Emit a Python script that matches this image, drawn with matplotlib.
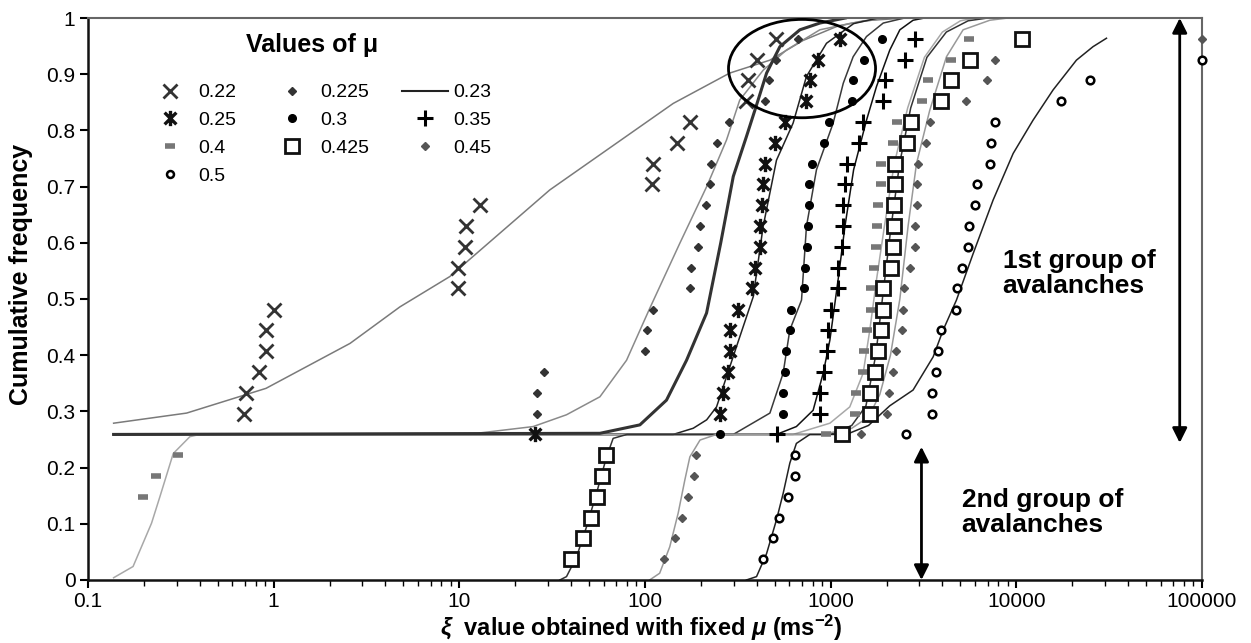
import matplotlib
matplotlib.use("Agg")
import matplotlib.pyplot as plt
import numpy as np
from matplotlib.lines import Line2D
from matplotlib.patches import Ellipse
from matplotlib.path import Path

plt.rcParams['font.family'] = ['Liberation Sans', 'DejaVu Sans']
plt.rcParams['mathtext.fontset'] = 'custom'
plt.rcParams['mathtext.rm'] = 'Liberation Sans:bold'
plt.rcParams['mathtext.it'] = 'Liberation Sans:italic:bold'
plt.rcParams['mathtext.bf'] = 'Liberation Sans:bold'

# cumulative frequency levels
freq_lo = [0.037, 0.074, 0.111, 0.148, 0.185, 0.222]
freq_hi = [0.259, 0.296, 0.333, 0.370, 0.407, 0.444, 0.481, 0.519, 0.556, 0.593,
           0.630, 0.667, 0.704, 0.741, 0.778, 0.815, 0.852, 0.889, 0.926, 0.963]

# xi values per mu (points)
x_022 = [0.695, 0.714, 0.837, 0.906, 0.906, 1.004, 9.87, 9.87, 10.7, 10.9, 12.9,
         108.5, 110.7, 148, 174.6, 352, 360, 399, 511]
y_022 = freq_hi[1:]
x_0225 = [26.1, 26.1, 28.5, 99.8, 102, 111, 174.5, 178, 193.5, 197.6, 214.5, 223.5,
          228, 245, 284, 442, 467, 511, 668]
y_0225 = freq_hi[1:]
x_025 = [25.5, 253, 264, 281, 287, 287, 318, 375, 391, 416, 416, 425, 433, 443,
         501, 567, 741, 773, 857, 1120]
y_025 = freq_hi
x_03 = [253, 551, 551, 567, 578, 603, 615, 716, 726, 748, 757, 765, 765, 798,
        919, 981, 1296, 1322, 1514, 1900]
y_03 = freq_hi
x_035 = [515, 875, 875, 919, 958, 970, 1003, 1090, 1090, 1146, 1160, 1168, 1194,
         1219, 1425, 1498, 1918, 1960, 2512, 2840]
y_035 = freq_hi
x_04 = [0.199, 0.2315, 0.306,
        942, 1349, 1368, 1486, 1510, 1561, 1660, 1660, 1710, 1750, 1778, 1800,
        1875, 1875, 2173, 2265, 3090, 3350, 4475, 5570]
y_04 = freq_lo[3:] + freq_hi
x_0425 = [40.2, 46.1, 51.5, 55.3, 58.4, 61.4,
          1145, 1626, 1626, 1730, 1803, 1879, 1918, 1918, 2103, 2173, 2190, 2190,
          2218, 2218, 2588, 2698, 3908, 4475, 5620, 10800]
y_0425 = freq_lo + freq_hi
x_045 = [126.5, 145, 157.5, 169.5, 183.4, 188,
         1466, 2000, 2065, 2173, 2245, 2409, 2440, 2479, 2672, 2840, 2840, 2924,
         2924, 2958, 3256, 3420, 5345, 6915, 7670, 100000]
y_045 = freq_lo + freq_hi
x_05 = [433, 490, 528, 586, 642, 642,
        2541, 3494, 3494, 3715, 3793, 3924, 4722, 4800, 5130, 5505, 5570, 5980,
        6110, 7200, 7350, 7660, 17380, 24900, 100000]
y_05 = freq_lo + freq_hi[:-1]

# fitted curves
fx_022 = [0.1375, 0.34, 0.91, 2.58, 4.79, 8.9, 30.7, 142, 286, 471, 710, 1080, 1500, 2500]
fy_022 = [0.279, 0.297, 0.341, 0.421, 0.486, 0.540, 0.694, 0.848, 0.902, 0.925, 0.96, 0.985, 0.995, 1.0]
fx_0225 = [0.1375, 12.4, 25, 37.8, 57.2, 79.6, 106, 154, 215, 275, 324, 433, 578, 875, 1300, 2000]
fy_0225 = [0.259, 0.261, 0.273, 0.294, 0.326, 0.391, 0.483, 0.599, 0.700, 0.783, 0.854, 0.907, 0.943, 0.979, 0.991, 1.0]
fx_023 = [0.1375, 57.2, 93.9, 130.6, 167.5, 214.7, 256, 299, 352, 391, 452, 533, 683, 875, 1200]
fy_023 = [0.259, 0.261, 0.276, 0.320, 0.391, 0.475, 0.60, 0.718, 0.789, 0.836, 0.902, 0.949, 0.979, 0.991, 1.0]
fx_025 = [0.1375, 142, 182, 215, 243, 311, 383, 433, 511, 628, 741, 950, 1330, 1800]
fy_025 = [0.259, 0.259, 0.27, 0.285, 0.308, 0.415, 0.504, 0.629, 0.747, 0.813, 0.896, 0.955, 0.99, 1.0]
fx_03 = [0.1375, 299, 471, 555, 603, 697, 741, 839, 1032, 1170, 1322, 1560, 1920, 2500]
fy_03 = [0.259, 0.259, 0.297, 0.368, 0.445, 0.498, 0.629, 0.730, 0.813, 0.884, 0.931, 0.967, 0.991, 1.0]
fx_035 = [0.1375, 511, 654, 805, 912, 991, 1097, 1194, 1330, 1560, 1766, 2083, 2360, 2780, 3200]
fy_035 = [0.259, 0.259, 0.273, 0.302, 0.368, 0.427, 0.534, 0.629, 0.73, 0.818, 0.878, 0.943, 0.979, 0.996, 1.0]
fx_04 = [0.1375, 0.175, 0.22, 0.244, 0.288, 0.354, 0.40, 628, 991, 1268, 1497, 1626, 1766,
         1950, 2200, 2600, 3200, 4000, 5000, 6000]
fy_04 = [0.004, 0.024, 0.101, 0.148, 0.225, 0.255, 0.259, 0.259, 0.279, 0.308, 0.368, 0.445,
         0.534, 0.63, 0.74, 0.84, 0.93, 0.975, 0.995, 1.0]
fx_0425 = [34.8, 37.8, 42.8, 48.5, 54.8, 62.1, 67.4, 80, 1000, 1300, 1550, 1750, 1900, 2100,
           2350, 2700, 3300, 4200, 5500, 7000]
fy_0425 = [0, 0.006, 0.041, 0.095, 0.154, 0.219, 0.252, 0.259, 0.259, 0.275, 0.31, 0.40,
           0.50, 0.62, 0.74, 0.84, 0.93, 0.975, 0.995, 1.0]
fx_045 = [106, 120, 136, 151, 164, 174.5, 198, 243, 900, 1300, 1600, 1840, 2100, 2360, 2614,
          2901, 3420, 4206, 5170, 7200, 9000]
fy_045 = [0, 0.012, 0.059, 0.119, 0.178, 0.219, 0.249, 0.259, 0.259, 0.27, 0.29, 0.33, 0.40,
          0.50, 0.63, 0.741, 0.836, 0.931, 0.979, 0.996, 1.0]
fx_05 = [352, 399, 452, 511, 555, 603, 654, 773, 1216, 1600, 2083, 2780, 3566, 4040, 4760,
         5860, 7500, 9620, 12300, 15780, 21080, 25900, 30600]
fy_05 = [0, 0.006, 0.047, 0.107, 0.154, 0.208, 0.243, 0.259, 0.259, 0.275, 0.31, 0.338,
         0.397, 0.445, 0.498, 0.581, 0.676, 0.759, 0.818, 0.872, 0.925, 0.949, 0.964]

# asterisk marker: X with a vertical bar
ast = Path([(-1, -1), (1, 1), (-1, 1), (1, -1), (0, -1.3), (0, 1.3)],
           [Path.MOVETO, Path.LINETO, Path.MOVETO, Path.LINETO, Path.MOVETO, Path.LINETO])

fig = plt.figure(figsize=(12.51, 6.43), dpi=100)
ax = fig.add_axes([0.0703, 0.098, 0.8905, 0.874])

# fitted lines
ax.plot(fx_022, fy_022, color='#7a7a7a', lw=1.1)
ax.plot(fx_0225, fy_0225, color='#8a8a8a', lw=1.1)
ax.plot(fx_025, fy_025, color='#222222', lw=1.1)
ax.plot(fx_03, fy_03, color='#3a3a3a', lw=1.1)
ax.plot(fx_035, fy_035, color='#111111', lw=1.1)
ax.plot(fx_04, fy_04, color='#a8a8a8', lw=1.1)
ax.plot(fx_0425, fy_0425, color='#333333', lw=1.1)
ax.plot(fx_045, fy_045, color='#999999', lw=1.1)
ax.plot(fx_05, fy_05, color='#222222', lw=1.1)
ax.plot(fx_023, fy_023, color='#333333', lw=2.2)

# points
st = dict(ls='none', clip_on=False, zorder=5)
ax.plot(x_022, y_022, marker='x', ms=10, mew=2, color='#333333', **st)
ax.plot(x_0225, y_0225, marker='D', ms=4, color='#333333', **st)
ax.plot(x_025, y_025, marker=ast, ms=11, mew=2.4, color='#111111', **st)
ax.plot(x_03, y_03, marker='o', ms=5.5, color='black', **st)
ax.plot(x_035, y_035, marker='+', ms=12, mew=2.2, color='black', **st)
ax.plot(x_04, y_04, marker='_', ms=7, mew=4, color='#777777', **st)
ax.plot(x_0425, y_0425, marker='s', ms=10, mew=2, mfc='white', color='#111111', **st)
ax.plot(x_045, y_045, marker='D', ms=4, color='#555555', **st)
ax.plot(x_05, y_05, marker='o', ms=5.5, mew=1.8, mfc='white', color='black', **st)

ax.set_xscale('log')
ax.set_xlim(0.1, 100000)
ax.set_ylim(0, 1)
ax.set_xticks([0.1, 1, 10, 100, 1000, 10000, 100000])
ax.set_xticklabels(['0.1', '1', '10', '100', '1000', '10000', '100000'])
ax.set_yticks(np.arange(0, 1.01, 0.1))
ax.set_yticklabels(['0', '0.1', '0.2', '0.3', '0.4', '0.5', '0.6', '0.7', '0.8', '0.9', '1'])
ax.tick_params(axis='both', which='major', direction='out', length=6, width=1.5, labelsize=15, pad=3)
ax.tick_params(axis='x', which='minor', direction='out', length=4, width=1)
for s in ['left', 'bottom']:
    ax.spines[s].set_linewidth(1.8)
    ax.spines[s].set_color('#111111')
for s in ['top', 'right']:
    ax.spines[s].set_linewidth(1.5)
    ax.spines[s].set_color('#666666')

ax.set_ylabel('Cumulative frequency', fontsize=18, fontweight='bold')
ax.yaxis.set_label_coords(-0.049, 0.543)
ax.set_xlabel(r'$\xi$  value obtained with fixed $\mu$ (ms$^{-2}$)', fontsize=17,
              fontweight='bold')
ax.xaxis.set_label_coords(0.497, -0.058)

# legend
h = [Line2D([], [], ls='none', marker='x', ms=10, mew=2, color='#333333'),
     Line2D([], [], ls='none', marker=ast, ms=11, mew=2.4, color='#111111'),
     Line2D([], [], ls='none', marker='_', ms=7, mew=4, color='#777777'),
     Line2D([], [], ls='none', marker='o', ms=5, mew=1.8, mfc='white', color='black'),
     Line2D([], [], ls='none', marker='D', ms=4, color='#333333'),
     Line2D([], [], ls='none', marker='o', ms=5.5, color='black'),
     Line2D([], [], ls='none', marker='s', ms=10, mew=2, mfc='white', color='#111111'),
     Line2D([], [], color='#222222', lw=1.5),
     Line2D([], [], ls='none', marker='+', ms=12, mew=2.2, color='black'),
     Line2D([], [], ls='none', marker='D', ms=4, color='#555555')]
lab = ['0.22', '0.25', '0.4', '0.5', '0.225', '0.3', '0.425', '0.23', '0.35', '0.45']
ax.legend(h, lab, ncol=3, loc='upper left', bbox_to_anchor=(0.053, 0.883),
          frameon=False, fontsize=14, borderpad=0, borderaxespad=0,
          handlelength=2.37, handletextpad=0.26, columnspacing=1.7, labelspacing=0.52)
ax.text(0.201, 0.952, 'Values of μ', transform=ax.transAxes, fontsize=18,
        fontweight='bold', ha='center', va='center')

# ellipse highlighting the top of the curves
ax.add_patch(Ellipse((0.641, 0.91), 0.132, 0.175, transform=ax.transAxes,
                     fill=False, lw=2, color='black', clip_on=False, zorder=6))

# group arrows
ax.annotate('', xy=(75900, 1.0), xytext=(75900, 0.244),
            arrowprops=dict(arrowstyle='<|-|>', color='black', lw=2, mutation_scale=22,
                            shrinkA=0, shrinkB=0))
ax.annotate('', xy=(3085, 0.237), xytext=(3085, 0.0),
            arrowprops=dict(arrowstyle='<|-|>', color='black', lw=2, mutation_scale=22,
                            shrinkA=0, shrinkB=0))
ax.text(8450, 0.545, '1st group of\navalanches', fontsize=19, fontweight='bold',
        va='center', ha='left', linespacing=1.05)
ax.text(5080, 0.12, '2nd group of\navalanches', fontsize=19, fontweight='bold',
        va='center', ha='left', linespacing=1.05)

fig.savefig('out.png', dpi=100)
